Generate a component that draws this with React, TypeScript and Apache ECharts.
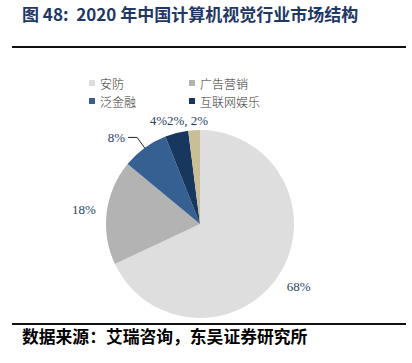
import React, { useEffect, useRef } from "react";
import * as echarts from "echarts";

const categories = ["安防", "广告营销", "泛金融", "互联网娱乐", "其他"];
const values = [68, 18, 8, 4, 2];
const labelTexts = ["68%", "18%", "8%", "4%", "2%, 2%"];
const colors = ["#dedede", "#b3b3b3", "#376092", "#17375e", "#c9bf97"];
const legendRow1 = ["安防", "广告营销"];
const legendRow2 = ["泛金融", "互联网娱乐"];

const CX = 200;
const CY = 224;
const R = 94;

export default function App() {
  const ref = useRef<HTMLDivElement>(null);
  useEffect(() => {
    document.body.style.margin = "0";
    const chart = echarts.init(ref.current!, null, { renderer: "svg" });
    const total = values.reduce((a, b) => a + b, 0);
    const serif = "'Liberation Serif', 'Times New Roman', serif";
    const cjk = "'Noto Sans CJK SC', sans-serif";
    const legendCommon = {
      orient: "horizontal",
      itemWidth: 6,
      itemHeight: 6,
      icon: "rect",
      selectedMode: false,
      textStyle: { fontFamily: cjk, fontSize: 12, color: "#333", fontWeight: 300 },
    };
    chart.setOption({
      animation: false,
      color: colors,
      legend: [
        { ...legendCommon, data: legendRow1, left: 84, top: 72, itemGap: 65 },
        { ...legendCommon, data: legendRow2, left: 84, top: 90, itemGap: 53 },
      ],
      graphic: [
        {
          type: "text",
          left: 22,
          top: 5,
          style: {
            text: "图 48:  2020 年中国计算机视觉行业市场结构",
            fontFamily: cjk,
            fontWeight: "bold",
            fontSize: 17,
            fill: "#1f3864",
          },
        },
        {
          type: "line",
          shape: { x1: 12, y1: 47, x2: 406, y2: 47 },
          style: { stroke: "#111", lineWidth: 2 },
        },
        {
          type: "line",
          shape: { x1: 12, y1: 324, x2: 406, y2: 324 },
          style: { stroke: "#111", lineWidth: 2 },
        },
        {
          type: "text",
          left: 22,
          top: 328,
          style: {
            text: "数据来源：艾瑞咨询，东吴证券研究所",
            fontFamily: cjk,
            fontWeight: "bold",
            fontSize: 16.8,
            fill: "#000",
          },
        },
      ],
      series: [
        {
          type: "pie",
          center: [CX, CY],
          radius: R,
          startAngle: 90,
          clockwise: true,
          silent: true,
          avoidLabelOverlap: false,
          emphasis: { disabled: true },
          label: {
            position: "outside",
            fontFamily: serif,
            fontSize: 13,
            color: "#2b3f63",
            distanceToLabelLine: 3,
            formatter: (p: any) => labelTexts[p.dataIndex],
          },
          labelLine: {
            show: true,
            length: 13,
            length2: 9,
            lineStyle: { color: "#222", width: 1 },
          },
          labelLayout: (p: any) => {
            const i = p.dataIndex;
            if (i === 2) return {};
            if (i === 3) return { x: 167, y: 120, align: "right", verticalAlign: "middle" };
            if (i === 4) return { x: 167, y: 120, align: "left", verticalAlign: "middle" };
            let before = 0;
            for (let k = 0; k < i; k++) before += values[k];
            const mid = ((before + values[i] / 2) / total) * Math.PI * 2;
            const rr = 117;
            return {
              x: CX + rr * Math.sin(mid),
              y: CY - rr * Math.cos(mid),
              align: "center",
              verticalAlign: "middle",
            };
          },
          data: categories.map((name, i) => ({
            name,
            value: values[i],
            itemStyle: { color: colors[i] },
            labelLine: { show: i === 2 },
          })),
        },
      ],
    });
    return () => chart.dispose();
  }, []);
  return <div ref={ref} style={{ width: 412, height: 363 }} />;
}
